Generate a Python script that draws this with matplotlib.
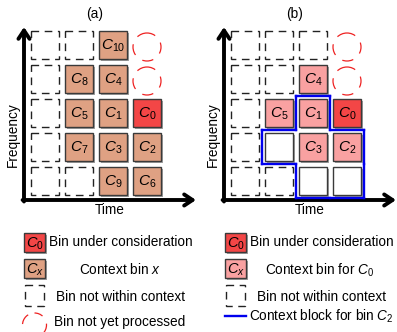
import matplotlib
matplotlib.use('Agg')
import matplotlib.pyplot as plt
from matplotlib.patches import Rectangle, Circle

plt.rcParams['font.family'] = ['Liberation Sans', 'DejaVu Sans']
plt.rcParams['mathtext.fontset'] = 'custom'
plt.rcParams['mathtext.rm'] = 'Liberation Sans'
plt.rcParams['mathtext.it'] = 'Liberation Sans:italic'

# grid contents, top row first: x = outside context, o = not processed,
# w = empty bin in context block, otherwise a bin label
grid_a = [['x', 'x', 'C10', 'o'],
          ['x', 'C8', 'C4', 'o'],
          ['x', 'C5', 'C1', 'C0'],
          ['x', 'C7', 'C3', 'C2'],
          ['x', 'x', 'C9', 'C6']]
grid_b = [['x', 'x', 'x', 'o'],
          ['x', 'x', 'C4', 'o'],
          ['x', 'C5', 'C1', 'C0'],
          ['x', 'w', 'C3', 'C2'],
          ['x', 'x', 'w', 'w']]
block_b = [(2, 2), (3, 1), (3, 2), (3, 3), (4, 2), (4, 3)]  # (row, col)

titles = ['(a)', '(b)']
legend_a = ['Bin under consideration', 'Context bin $x$',
            'Bin not within context', 'Bin not yet processed']
legend_b = ['Bin under consideration', 'Context bin for $C_0$',
            'Bin not within context', 'Context block for bin $C_2$']

RED = '#f34646'
TAN = '#dfa183'
PINK = '#f9a1a1'
EDGE = '#3a3a3a'
BLUE = '#0000ee'
SIZE = 28
PITCH = 34
FS = 9.8

fig = plt.figure(figsize=(3.97, 3.32), dpi=100)
ax = fig.add_axes([0, 0, 1, 1])
ax.set_xlim(0, 397)
ax.set_ylim(332, 0)
ax.axis('off')


def label(s):
    return '$C_{%s}$' % s[1:]


def solid_box(x, y, w, h, color, text=None, fs=11):
    ax.add_patch(Rectangle((x + 1.5, y + 1.5), w, h, color='#a0a0a0', lw=0, zorder=1))
    ax.add_patch(Rectangle((x, y), w, h, facecolor=color, edgecolor=EDGE, lw=1, zorder=2))
    if text:
        ax.text(x + w / 2, y + h / 2 + 1, text, ha='center', va='center',
                fontsize=fs, zorder=3)


def dashed_box(x, y, w, h):
    ax.add_patch(Rectangle((x, y), w, h, fill=False, edgecolor='#222222', lw=1,
                           linestyle=(0, (5.5, 4)), zorder=2))


def circle(cx, cy, r):
    ax.add_patch(Circle((cx, cy), r, fill=False, edgecolor='#ee2222', lw=0.9,
                        linestyle=(2, (9, 7)), zorder=2))


def panel(x0, grid, ctx_color, title, block=None):
    y0 = 31
    for r, row in enumerate(grid):
        for c, v in enumerate(row):
            x = x0 + c * PITCH
            y = y0 + r * PITCH
            if v == 'x':
                dashed_box(x, y, SIZE, SIZE)
            elif v == 'o':
                circle(x + SIZE / 2, y + SIZE / 2 + 2, 14)
            elif v == 'w':
                solid_box(x, y, SIZE, SIZE, 'white')
            elif v == 'C0':
                solid_box(x, y, SIZE, SIZE, RED, label(v))
            else:
                solid_box(x, y, SIZE, SIZE, ctx_color, label(v))
    if block:
        g = (PITCH - SIZE) / 2
        for r, c in block:
            left = x0 + c * PITCH - g
            right = left + PITCH
            top = y0 + r * PITCH - g
            bot = top + PITCH
            kw = dict(color=BLUE, lw=1.7, solid_capstyle='projecting', zorder=4)
            if (r - 1, c) not in block:
                ax.plot([left, right], [top, top], **kw)
            if (r + 1, c) not in block:
                ax.plot([left, right], [bot, bot], **kw)
            if (r, c - 1) not in block:
                ax.plot([left, left], [top, bot], **kw)
            if (r, c + 1) not in block:
                ax.plot([right, right], [top, bot], **kw)
    ax_x = x0 - 7
    arrow = dict(arrowstyle='->,head_length=0.6,head_width=0.4', lw=2.8,
                 color='black', shrinkA=0, shrinkB=0)
    ax.annotate('', xy=(ax_x, 27), xytext=(ax_x, 201.5), arrowprops=arrow)
    ax.annotate('', xy=(x0 + 165, 200), xytext=(ax_x - 1.4, 200), arrowprops=arrow)
    ax.text(x0 + 64, 14, title, ha='center', va='center', fontsize=FS)
    ax.text(x0 + 79, 210, 'Time', ha='center', va='center', fontsize=FS)
    ax.text(x0 - 18, 135, 'Frequency', ha='center', va='center', fontsize=FS,
            rotation=90)


panel(31, grid_a, TAN, titles[0])
panel(231, grid_b, PINK, titles[1], block_b)

# legends
solid_box(24, 233, 21, 19, RED, '$C_0$', fs=10.5)
ax.text(49, 242.5, legend_a[0], ha='left', va='center', fontsize=FS)
solid_box(24, 259, 21, 19, TAN, '$C_x$', fs=10.5)
ax.text(120, 270, legend_a[1], ha='center', va='center', fontsize=FS)
dashed_box(25, 285, 19, 21)
ax.text(56, 297, legend_a[2], ha='left', va='center', fontsize=FS)
circle(34.5, 325, 12)
ax.text(54, 322, legend_a[3], ha='left', va='center', fontsize=FS)

solid_box(225, 233, 21, 19, RED, '$C_0$', fs=10.5)
ax.text(250, 242.5, legend_b[0], ha='left', va='center', fontsize=FS)
solid_box(225, 259, 21, 19, PINK, '$C_x$', fs=10.5)
ax.text(320, 270, legend_b[1], ha='center', va='center', fontsize=FS)
dashed_box(226, 285, 19, 21)
ax.text(257, 297, legend_b[2], ha='left', va='center', fontsize=FS)
ax.plot([225, 246], [316, 316], color=BLUE, lw=1.7)
ax.text(249, 316, legend_b[3], ha='left', va='center', fontsize=FS)

fig.savefig('out.png', dpi=100)
